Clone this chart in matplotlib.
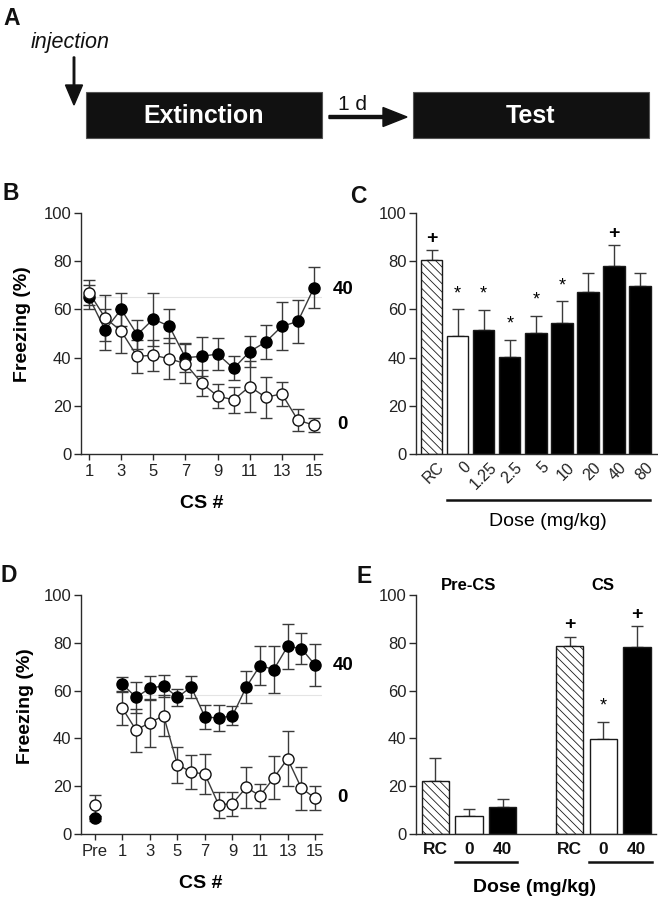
import matplotlib
matplotlib.use('Agg')
import matplotlib.pyplot as plt
from matplotlib.patches import Rectangle, FancyArrow
import matplotlib.transforms as mtransforms

plt.rcParams['font.family'] = ['Liberation Sans', 'DejaVu Sans']
plt.rcParams['hatch.linewidth'] = 0.6

# ---------------- data ----------------
# Panel B: extinction session (CS 1-15)
cs_b = list(range(1, 16))
b_40 = [65, 51.5, 60, 49.5, 56, 53, 40, 40.5, 41.5, 35.5, 42.5, 46.5, 53, 55, 69]
b_40_err = [5, 8.5, 7, 6, 11, 7, 6, 8, 6.5, 5, 6.5, 7, 10, 9, 8.5]
b_0 = [67, 56.5, 51, 40.5, 41, 39.5, 37.5, 29.5, 24, 22.5, 28, 23.5, 25, 14, 12]
b_0_err = [5, 9.5, 9, 7, 6.5, 8.5, 8, 5.5, 5, 5.5, 10.5, 8.5, 5, 4.5, 3]
b_xticks = [1, 3, 5, 7, 9, 11, 13, 15]

# Panel C: test, dose-response
c_labels = ['RC', '0', '1.25', '2.5', '5', '10', '20', '40', '80']
c_vals = [80.6, 48.8, 51.5, 40.4, 50.4, 54.3, 67.2, 78.1, 69.8]
c_errs = [4.0, 11.3, 8.2, 7.0, 7.0, 9.0, 7.7, 8.5, 5.5]
c_marks = ['+', '*', '*', '*', '*', '*', '', '+', '']

# Panel D: test session (Pre + CS 1-15)
cs_d = list(range(1, 16))
d_pre_x = -1
d_pre_40, d_pre_40_err = 6.5, 1.0
d_pre_0, d_pre_0_err = 12, 4.5
d_40 = [62.7, 57.2, 61, 62, 57.2, 61.5, 49, 48.5, 49.5, 61.5, 70.5, 68.8, 78.5, 77.6, 70.7]
d_40_err = [3, 6.5, 5, 4.5, 3.5, 4.5, 5, 5.5, 4, 6.5, 8.3, 10, 9.3, 6.6, 8.7]
d_0 = [52.6, 43.5, 46.6, 49.5, 29, 26, 25, 12.2, 12.7, 19.5, 16, 23.5, 31.5, 19.2, 15]
d_0_err = [7, 9, 10, 8.5, 7.5, 7, 8.3, 5.5, 5, 8.7, 5, 9, 11.5, 9, 5]
d_xticks = [-1, 1, 3, 5, 7, 9, 11, 13, 15]
d_xticklabels = ['Pre', '1', '3', '5', '7', '9', '11', '13', '15']

# Panel E: Pre-CS and CS freezing
e_labels = ['RC', '0', '40']
e_pre = [22.3, 7.6, 11.4]
e_pre_err = [9.3, 3.0, 3.3]
e_cs = [78.7, 39.6, 78.3]
e_cs_err = [3.8, 7.4, 8.6]
e_cs_marks = ['+', '*', '+']

yticks = [0, 20, 40, 60, 80, 100]

# ---------------- figure ----------------
W, H = 658, 899
fig = plt.figure(figsize=(W / 100, H / 100), dpi=100)


def px_ax(l, t, r, b):
    return fig.add_axes([l / W, 1 - b / H, (r - l) / W, (b - t) / H])


def ftxt(x, y, s, **kw):
    return fig.text(x / W, 1 - y / H, s, **kw)


AXC = '#2a2a2a'
ECOL = '#3a3a3a'
TICK_FS = 12


def style_ax(ax):
    for s in ['top', 'right']:
        ax.spines[s].set_visible(False)
    for s in ['left', 'bottom']:
        ax.spines[s].set_linewidth(1.0)
        ax.spines[s].set_color(AXC)
    ax.set_ylim(0, 100)
    ax.set_yticks(yticks)
    ax.tick_params(axis='y', direction='out', length=5, width=1, color=AXC,
                   labelsize=TICK_FS, pad=2, labelcolor='#222')
    ax.patch.set_alpha(0)


# ---------------- Panel A (schematic) ----------------
axA = fig.add_axes([0, 0, 1, 1])
axA.set_xlim(0, W)
axA.set_ylim(H, 0)
axA.axis('off')
axA.patch.set_alpha(0)
axA.add_patch(Rectangle((86, 92), 236, 46, facecolor='#111111', edgecolor='#555555', lw=0.8))
axA.add_patch(Rectangle((413, 92), 236, 46, facecolor='#111111', edgecolor='#555555', lw=0.8))
axA.text(204, 116, 'Extinction', color='white', fontsize=18, fontweight='bold',
         ha='center', va='center')
axA.text(531, 116, 'Test', color='white', fontsize=18, fontweight='bold',
         ha='center', va='center')
axA.add_patch(FancyArrow(74, 57, 0, 48, width=1.5, head_width=17, head_length=20,
                         length_includes_head=True, color='#111111'))
axA.add_patch(FancyArrow(329, 117, 78, 0, width=3, head_width=19, head_length=24,
                         length_includes_head=True, color='#111111'))
axA.text(31, 48, 'injection', fontsize=15.5, fontstyle='italic', ha='left',
         va='baseline', color='#111')
axA.text(353, 110, '1 d', fontsize=15, ha='center', va='baseline', color='#111')

# ---------------- Panel B ----------------
axB = px_ax(81, 213, 322, 454)
style_ax(axB)
axB.set_xlim(0.5, 15.5)
axB.axhline(65, xmin=0.05, xmax=1.0, color='#e4e4e4', lw=0.8, zorder=0)
axB.errorbar(cs_b, b_40, yerr=b_40_err, fmt='none', ecolor=ECOL, elinewidth=1,
             capsize=4, capthick=1, zorder=2)
axB.errorbar(cs_b, b_0, yerr=b_0_err, fmt='none', ecolor=ECOL, elinewidth=1,
             capsize=4, capthick=1, zorder=2)
axB.plot(cs_b, b_40, '-', color=ECOL, lw=1, zorder=3)
axB.plot(cs_b, b_0, '-', color=ECOL, lw=1, zorder=3)
axB.plot(cs_b, b_40, 'o', ms=8, mfc='black', mec='black', mew=1, zorder=4)
axB.plot(cs_b, b_0, 'o', ms=8, mfc='white', mec='#111', mew=1, zorder=5)
axB.set_xticks(b_xticks)
axB.tick_params(axis='x', direction='out', length=4, width=1, color=AXC,
                labelsize=TICK_FS, pad=3, labelcolor='#222')

# ---------------- Panel C ----------------
axC = px_ax(416, 213, 657, 454)
style_ax(axC)
cx = list(range(len(c_labels)))
axC.set_xlim(-0.6, 8.65)
faces = ['white', 'white'] + ['black'] * 7
for i, (v, e) in enumerate(zip(c_vals, c_errs)):
    hatch = '\\\\\\\\' if c_labels[i] == 'RC' else None
    axC.bar(cx[i], v, width=0.82, color=faces[i], edgecolor='#1a1a1a', lw=1,
            hatch=hatch, zorder=2)
    axC.errorbar(cx[i], v, yerr=[[0], [e]], fmt='none', ecolor=ECOL, elinewidth=1,
                 capsize=4, capthick=1, zorder=1)
    m = c_marks[i]
    if m == '*':
        axC.text(cx[i], v + e + 6.5, '*', ha='center', va='center', fontsize=13)
    elif m == '+':
        axC.text(cx[i], v + e + 5, '+', ha='center', va='center', fontsize=14,
                 fontweight='bold')
axC.set_xticks(cx)
axC.set_xticklabels(c_labels, rotation=45, ha='right', va='top',
                    rotation_mode='anchor')
axC.tick_params(axis='x', length=0, labelsize=11.5, pad=4, labelcolor='#222')
for lab in axC.get_xticklabels():
    lab.set_transform(lab.get_transform() +
                      mtransforms.ScaledTranslation(5 / 100, 0, fig.dpi_scale_trans))
trC = mtransforms.blended_transform_factory(axC.transData, axC.transAxes)
axC.plot([cx[1] - 0.4, cx[-1] + 0.38], [-0.191, -0.191], color='#111', lw=1.8,
         transform=trC, clip_on=False)

# ---------------- Panel D ----------------
axD = px_ax(81, 595, 322, 834)
style_ax(axD)
axD.set_xlim(-2, 15.5)
axD.axhline(58, xmin=0.24, xmax=1.0, color='#e4e4e4', lw=0.8, zorder=0)
axD.errorbar(cs_d, d_40, yerr=d_40_err, fmt='none', ecolor=ECOL, elinewidth=1,
             capsize=4, capthick=1, zorder=2)
axD.errorbar(cs_d, d_0, yerr=d_0_err, fmt='none', ecolor=ECOL, elinewidth=1,
             capsize=4, capthick=1, zorder=2)
axD.errorbar([d_pre_x], [d_pre_40], yerr=[d_pre_40_err], fmt='none', ecolor=ECOL,
             elinewidth=1, capsize=4, capthick=1, zorder=2)
axD.errorbar([d_pre_x], [d_pre_0], yerr=[d_pre_0_err], fmt='none', ecolor=ECOL,
             elinewidth=1, capsize=4, capthick=1, zorder=2)
axD.plot(cs_d, d_40, '-', color=ECOL, lw=1, zorder=3)
axD.plot(cs_d, d_0, '-', color=ECOL, lw=1, zorder=3)
axD.plot(cs_d + [d_pre_x], d_40 + [d_pre_40], 'o', ms=8, mfc='black', mec='black',
         mew=1, zorder=4)
axD.plot(cs_d + [d_pre_x], d_0 + [d_pre_0], 'o', ms=8, mfc='white', mec='#111',
         mew=1, zorder=5)
axD.set_xticks(d_xticks)
axD.set_xticklabels(d_xticklabels)
axD.tick_params(axis='x', direction='out', length=4, width=1, color=AXC,
                labelsize=TICK_FS, pad=3, labelcolor='#222')

# ---------------- Panel E ----------------
axE = px_ax(416, 595, 656, 834)
style_ax(axE)
axE.set_xlim(-0.58, 6.57)
pre_x = [0, 1, 2]
cs_x = [4, 5, 6]
e_faces = ['white', 'white', 'black']
for grp_x, vals, errs in [(pre_x, e_pre, e_pre_err), (cs_x, e_cs, e_cs_err)]:
    for i in range(3):
        hatch = '\\\\\\\\' if e_labels[i] == 'RC' else None
        axE.bar(grp_x[i], vals[i], width=0.82, color=e_faces[i], edgecolor='#1a1a1a',
                lw=1, hatch=hatch, zorder=2)
        axE.errorbar(grp_x[i], vals[i], yerr=[[0], [errs[i]]], fmt='none',
                     ecolor=ECOL, elinewidth=1, capsize=4, capthick=1, zorder=1)
for i, m in enumerate(e_cs_marks):
    top = e_cs[i] + e_cs_err[i]
    if m == '*':
        axE.text(cs_x[i], top + 6.5, '*', ha='center', va='center', fontsize=13)
    else:
        axE.text(cs_x[i], top + 5, '+', ha='center', va='center', fontsize=14,
                 fontweight='bold')
axE.set_xticks(pre_x + cs_x)
axE.set_xticklabels(e_labels + e_labels, fontweight='bold')
axE.tick_params(axis='x', length=0, labelsize=12.5, pad=6, labelcolor='#111')
trE = mtransforms.blended_transform_factory(axE.transData, axE.transAxes)
for gx in (pre_x, cs_x):
    axE.plot([gx[1] - 0.42, gx[2] + 0.44], [-0.117, -0.117], color='#111', lw=1.8,
             transform=trE, clip_on=False)
trE2 = mtransforms.blended_transform_factory(axE.transData, fig.transFigure)
axE.text(1, 1 - 586 / H, 'Pre-CS', transform=trE2, ha='center', va='center',
         fontsize=12, fontweight='bold')
axE.text(5, 1 - 586 / H, 'CS', transform=trE2, ha='center', va='center',
         fontsize=12, fontweight='bold')

# ---------------- labels ----------------
lab_kw = dict(fontsize=16.5, fontweight='bold', va='baseline', ha='left', color='#111')
ftxt(3, 25, 'A', **lab_kw)
ftxt(2, 200, 'B', **lab_kw)
ftxt(350, 203, 'C', **lab_kw)
ftxt(0, 582, 'D', **lab_kw)
ftxt(357, 583, 'E', **lab_kw)

ftxt(23, 324, 'Freezing (%)', rotation=90, ha='center', va='center', fontsize=14,
     fontweight='bold')
ftxt(25, 706, 'Freezing (%)', rotation=90, ha='center', va='center', fontsize=14,
     fontweight='bold')
ftxt(202, 503, 'CS #', ha='center', va='center', fontsize=14, fontweight='bold')
ftxt(201, 883, 'CS #', ha='center', va='center', fontsize=14, fontweight='bold')
ftxt(548, 521, 'Dose (mg/kg)', ha='center', va='center', fontsize=14)
ftxt(535, 888, 'Dose (mg/kg)', ha='center', va='center', fontsize=14, fontweight='bold')

grp_kw = dict(ha='left', va='center', fontsize=13.5, fontweight='bold')
ftxt(333, 289, '40', **grp_kw)
ftxt(337, 424, '0', **grp_kw)
ftxt(333, 666, '40', **grp_kw)
ftxt(337, 798, '0', **grp_kw)

fig.savefig('out.png', dpi=100)
